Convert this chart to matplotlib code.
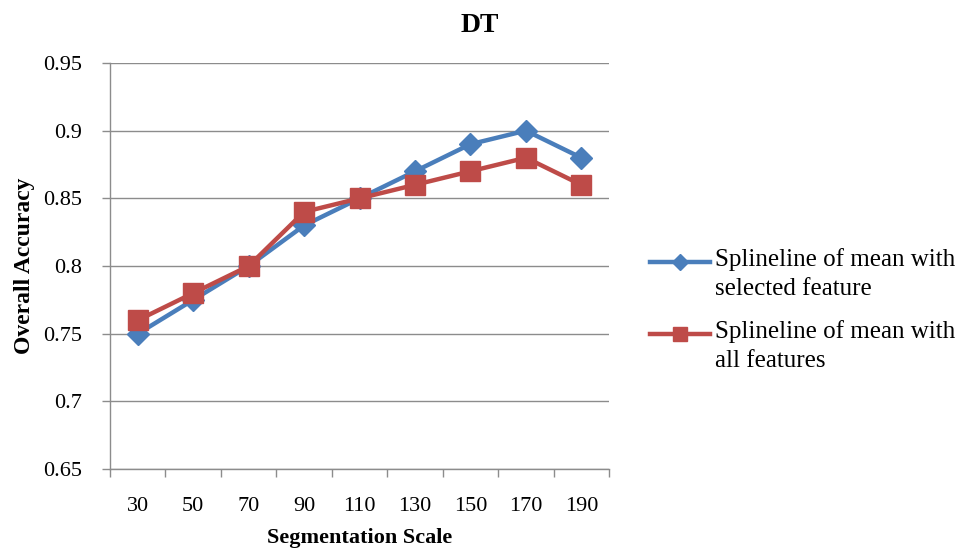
import numpy as np
import matplotlib.pyplot as plt
from matplotlib.legend_handler import HandlerLine2D

plt.rcParams['font.family'] = ['Liberation Serif', 'DejaVu Serif']

# segmentation scales and mean overall accuracy per scale
scales = [30, 50, 70, 90, 110, 130, 150, 170, 190]
acc_selected = [0.75, 0.775, 0.80, 0.83, 0.85, 0.87, 0.89, 0.90, 0.88]
acc_all = [0.76, 0.78, 0.80, 0.84, 0.85, 0.86, 0.87, 0.88, 0.86]
yticks = [0.65, 0.7, 0.75, 0.8, 0.85, 0.9, 0.95]
ytick_labels = ['0.65', '0.7', '0.75', '0.8', '0.85', '0.9', '0.95']

blue = '#4a7ebb'
red = '#be4b48'
grey = '#8c8c8c'


class FirstLineHandler(HandlerLine2D):
    # put the legend swatch beside the first line of a two-line label
    def create_artists(self, legend, orig_handle, xdescent, ydescent,
                       width, height, fontsize, trans):
        return super().create_artists(legend, orig_handle, xdescent,
                                      ydescent - 0.95 * fontsize, width,
                                      height, fontsize, trans)


fig = plt.figure(figsize=(9.79, 5.5), dpi=100)
ax = fig.add_axes([0.1124, 0.147, 0.5097, 0.7385])

x = np.arange(len(scales))
l1, = ax.plot(x, acc_selected, color=blue, lw=3.2, marker='D', ms=11,
              label='Splineline of mean with\nselected feature', zorder=3)
l2, = ax.plot(x, acc_all, color=red, lw=3.2, marker='s', ms=14,
              label='Splineline of mean with\nall features', zorder=4)

ax.set_xlim(-0.5, len(scales) - 0.5)
ax.set_ylim(0.65, 0.95)
ax.set_yticks(yticks)
ax.set_yticklabels(ytick_labels, fontsize=16)
ax.set_xticks(x)
ax.set_xticklabels([str(s) for s in scales], fontsize=16)
ax.set_xticks(np.arange(-0.5, len(scales)), minor=True)
ax.tick_params(axis='x', which='major', length=0, pad=20)
ax.tick_params(axis='x', which='minor', length=6, color=grey, width=1)
ax.tick_params(axis='y', length=6, color=grey, width=1, pad=14)

ax.grid(axis='y', color=grey, lw=1)
ax.set_axisbelow(True)
for side in ['top', 'right']:
    ax.spines[side].set_visible(False)
for side in ['left', 'bottom']:
    ax.spines[side].set_color(grey)
    ax.spines[side].set_linewidth(1)

fig.text(0.49, 1 - 26 / 550, 'DT', fontsize=20, fontweight='bold',
         ha='center', va='center')
ax.set_xlabel('Segmentation Scale', fontsize=16, fontweight='bold', labelpad=9)
ax.set_ylabel('Overall Accuracy', fontsize=17, fontweight='bold', labelpad=6)

leg = fig.legend(handles=[l1, l2], loc='center left',
                 bbox_to_anchor=(0.664, 0.436), frameon=False,
                 fontsize=18, handlelength=2.4, labelspacing=0.8,
                 handletextpad=0.2, borderpad=0, borderaxespad=0,
                 markerscale=0.75,
                 handler_map={l1: FirstLineHandler(), l2: FirstLineHandler()})
for t in leg.get_texts():
    t.set_linespacing(1.4)

fig.savefig('out.png', dpi=100)
